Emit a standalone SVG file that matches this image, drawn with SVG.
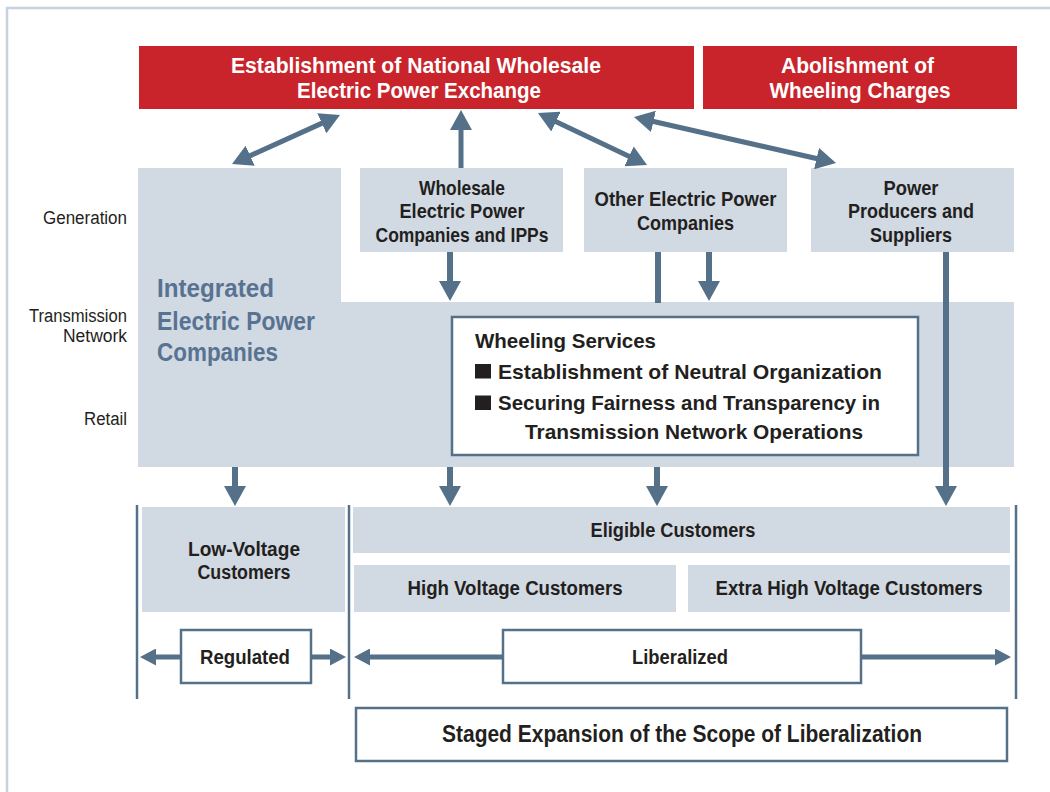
<svg xmlns="http://www.w3.org/2000/svg" width="1050" height="792" viewBox="0 0 1050 792">
<style>
.t{font-family:"Liberation Sans",Arial,sans-serif;font-weight:bold;fill:#231f20;text-anchor:middle}
.w{fill:#ffffff}
.lbl{font-family:"Liberation Sans",Arial,sans-serif;font-size:18px;fill:#231f20;text-anchor:end}
.red{fill:#c9242b}
.gray{fill:#d1d9e3}
.box{fill:#ffffff;stroke:#557089;stroke-width:2.5}
.sep{stroke:#557089;stroke-width:2.5;fill:none}
.a{stroke:#557089;stroke-width:6;fill:none}
.h{stroke:#557089;stroke-width:5;fill:none}
</style>
<defs>
<marker id="ah" markerUnits="userSpaceOnUse" viewBox="0 -11 20 22" refX="1" refY="0" markerWidth="20" markerHeight="22" orient="auto-start-reverse">
<path d="M0,-11 L20,0 L0,11 z" fill="#557089"/>
</marker>
<marker id="as" markerUnits="userSpaceOnUse" viewBox="0 -8.5 16 17" refX="1" refY="0" markerWidth="16" markerHeight="17" orient="auto-start-reverse">
<path d="M0,-8.5 L16,0 L0,8.5 z" fill="#557089"/>
</marker>
</defs>
<rect width="1050" height="792" fill="#ffffff"/>
<path d="M7,792 V8 H1050" fill="none" stroke="#c8d2df" stroke-width="2.5"/>

<g id="labels">
<text class="lbl" x="127" y="224" textLength="84" lengthAdjust="spacingAndGlyphs">Generation</text>
<text class="lbl" x="127" y="321.5" textLength="98" lengthAdjust="spacingAndGlyphs">Transmission</text>
<text class="lbl" x="127" y="341.5" textLength="64" lengthAdjust="spacingAndGlyphs">Network</text>
<text class="lbl" x="127" y="425" textLength="43" lengthAdjust="spacingAndGlyphs">Retail</text>
</g>

<g id="integrated">
<path class="gray" d="M138,168 H341 V302 H1014 V467 H138 Z"/>
<text class="t" style="fill:#587391;text-anchor:start" font-size="26" x="157" y="297" textLength="117" lengthAdjust="spacingAndGlyphs">Integrated</text>
<text class="t" style="fill:#587391;text-anchor:start" font-size="26" x="157" y="330" textLength="158" lengthAdjust="spacingAndGlyphs">Electric Power</text>
<text class="t" style="fill:#587391;text-anchor:start" font-size="26" x="157" y="361" textLength="121" lengthAdjust="spacingAndGlyphs">Companies</text>
</g>

<g id="exchange">
<rect class="red" x="139" y="46" width="555" height="63"/>
<text class="t w" font-size="22" x="416" y="72.5" textLength="370" lengthAdjust="spacingAndGlyphs">Establishment of National Wholesale</text>
<text class="t w" font-size="22" x="419" y="97.5" textLength="244" lengthAdjust="spacingAndGlyphs">Electric Power Exchange</text>
</g>

<g id="abolishment">
<rect class="red" x="703" y="46" width="314" height="63"/>
<text class="t w" font-size="22" x="857.5" y="72.5" textLength="153" lengthAdjust="spacingAndGlyphs">Abolishment of</text>
<text class="t w" font-size="22" x="860" y="97.5" textLength="181" lengthAdjust="spacingAndGlyphs">Wheeling Charges</text>
</g>

<g id="wholesale">
<rect class="gray" x="360" y="168" width="203" height="84"/>
<text class="t" font-size="20.5" x="462" y="194.5" textLength="86" lengthAdjust="spacingAndGlyphs">Wholesale</text>
<text class="t" font-size="20.5" x="462" y="218" textLength="125" lengthAdjust="spacingAndGlyphs">Electric Power</text>
<text class="t" font-size="20.5" x="462" y="241.5" textLength="173" lengthAdjust="spacingAndGlyphs">Companies and IPPs</text>
</g>

<g id="other">
<rect class="gray" x="584" y="168" width="203" height="84"/>
<text class="t" font-size="20.5" x="685.5" y="206" textLength="182" lengthAdjust="spacingAndGlyphs">Other Electric Power</text>
<text class="t" font-size="20.5" x="685.5" y="229.5" textLength="97" lengthAdjust="spacingAndGlyphs">Companies</text>
</g>

<g id="producers">
<rect class="gray" x="811" y="168" width="203" height="84"/>
<text class="t" font-size="20.5" x="911" y="194.5" textLength="55" lengthAdjust="spacingAndGlyphs">Power</text>
<text class="t" font-size="20.5" x="911" y="218" textLength="126" lengthAdjust="spacingAndGlyphs">Producers and</text>
<text class="t" font-size="20.5" x="911" y="241.5" textLength="82" lengthAdjust="spacingAndGlyphs">Suppliers</text>
</g>

<g id="connectors">
<line class="h" x1="249.3" y1="156.1" x2="322.7" y2="122.9" marker-start="url(#ah)" marker-end="url(#ah)"/>
<line class="h" x1="461" y1="168" x2="461" y2="129" marker-end="url(#ah)"/>
<line class="h" x1="555.1" y1="121.2" x2="629.9" y2="156.8" marker-start="url(#ah)" marker-end="url(#ah)"/>
<line class="h" x1="652.5" y1="121.2" x2="817.5" y2="158.8" marker-start="url(#ah)" marker-end="url(#ah)"/>
<line class="a" x1="450" y1="252" x2="450" y2="282" marker-end="url(#ah)"/>
<line class="a" x1="658" y1="252" x2="658" y2="303"/>
<line class="a" x1="709" y1="252" x2="709" y2="282" marker-end="url(#ah)"/>
<line class="a" x1="946" y1="252" x2="946" y2="487" marker-end="url(#ah)"/>
<line class="a" x1="235" y1="467" x2="235" y2="487" marker-end="url(#ah)"/>
<line class="a" x1="450" y1="467" x2="450" y2="487" marker-end="url(#ah)"/>
<line class="a" x1="657" y1="467" x2="657" y2="487" marker-end="url(#ah)"/>
<line class="sep" x1="137" y1="505" x2="137" y2="699"/>
<line class="sep" x1="349" y1="505" x2="349" y2="699"/>
<line class="sep" x1="1016" y1="505" x2="1016" y2="699"/>
<line class="h" x1="181" y1="657" x2="155" y2="657" marker-end="url(#as)"/>
<line class="h" x1="311" y1="657" x2="331" y2="657" marker-end="url(#as)"/>
<line class="h" x1="503" y1="657" x2="369" y2="657" marker-end="url(#as)"/>
<line class="h" x1="861" y1="657" x2="996" y2="657" marker-end="url(#as)"/>
</g>

<g id="wheeling">
<rect class="box" x="452" y="317" width="466" height="138"/>
<text class="t" style="text-anchor:start" font-size="21" x="475" y="347.5" textLength="181" lengthAdjust="spacingAndGlyphs">Wheeling Services</text>
<rect x="475" y="364" width="16" height="14.5" fill="#231f20"/>
<text class="t" style="text-anchor:start" font-size="21" x="498" y="378.5" textLength="384" lengthAdjust="spacingAndGlyphs">Establishment of Neutral Organization</text>
<rect x="475" y="395.5" width="16" height="14.5" fill="#231f20"/>
<text class="t" style="text-anchor:start" font-size="21" x="498" y="410" textLength="382" lengthAdjust="spacingAndGlyphs">Securing Fairness and Transparency in</text>
<text class="t" style="text-anchor:start" font-size="21" x="525" y="438.5" textLength="338" lengthAdjust="spacingAndGlyphs">Transmission Network Operations</text>
</g>

<g id="low-voltage">
<rect class="gray" x="142" y="507" width="203" height="105"/>
<text class="t" font-size="20" x="244" y="555.5" textLength="112" lengthAdjust="spacingAndGlyphs">Low-Voltage</text>
<text class="t" font-size="20" x="244" y="579" textLength="93" lengthAdjust="spacingAndGlyphs">Customers</text>
</g>

<g id="eligible">
<rect class="gray" x="353" y="507" width="657" height="46"/>
<text class="t" font-size="20" x="673" y="536.5" textLength="165" lengthAdjust="spacingAndGlyphs">Eligible Customers</text>
</g>

<g id="high-voltage">
<rect class="gray" x="354" y="565" width="322" height="47"/>
<text class="t" font-size="20" x="515" y="595" textLength="215" lengthAdjust="spacingAndGlyphs">High Voltage Customers</text>
</g>

<g id="extra-high-voltage">
<rect class="gray" x="688" y="565" width="322" height="47"/>
<text class="t" font-size="20" x="849" y="595" textLength="267" lengthAdjust="spacingAndGlyphs">Extra High Voltage Customers</text>
</g>

<g id="regulated">
<rect class="box" x="181" y="630" width="130" height="53"/>
<text class="t" font-size="20" x="245" y="664" textLength="90" lengthAdjust="spacingAndGlyphs">Regulated</text>
</g>

<g id="liberalized">
<rect class="box" x="503" y="630" width="358" height="53"/>
<text class="t" font-size="20" x="680" y="664" textLength="96" lengthAdjust="spacingAndGlyphs">Liberalized</text>
</g>

<g id="staged">
<rect class="box" x="356" y="708" width="651" height="53"/>
<text class="t" font-size="23" x="682" y="742" textLength="480" lengthAdjust="spacingAndGlyphs">Staged Expansion of the Scope of Liberalization</text>
</g>
</svg>
